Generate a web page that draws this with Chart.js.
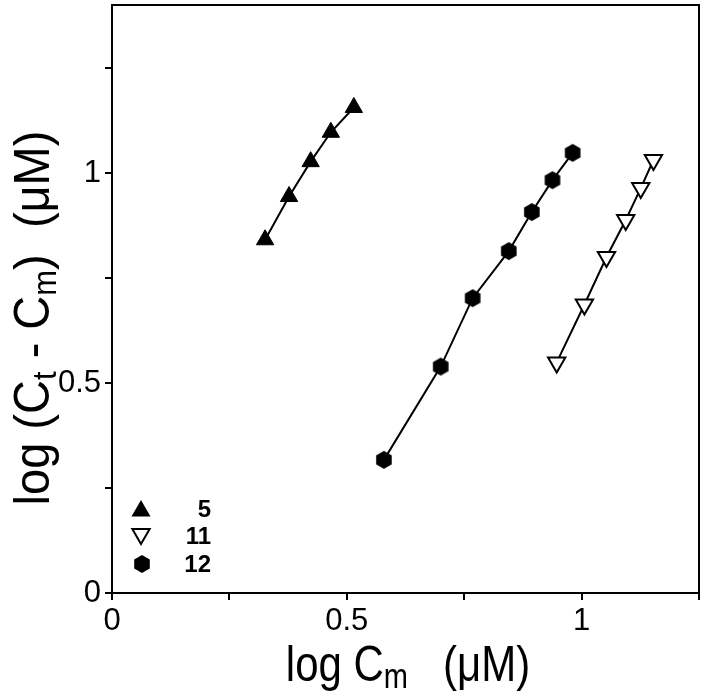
<!DOCTYPE html>
<html><head><meta charset="utf-8">
<script src="https://cdn.jsdelivr.net/npm/chart.js@4.4.1/dist/chart.umd.min.js"></script>
<style>html,body{margin:0;padding:0;background:#fff}#wrap{width:705px;height:694px}</style>
</head><body><div id="wrap"><canvas id="c" width="705" height="694"></canvas></div>
<script>
// ---- data ----
const seriesNames = ['5', '11', '12'];
const s5X  = [0.326, 0.377, 0.423, 0.466, 0.515];
const s5Y  = [0.841, 0.944, 1.027, 1.097, 1.156];
const s11X = [0.947, 1.006, 1.053, 1.094, 1.126, 1.153];
const s11Y = [0.549, 0.687, 0.800, 0.888, 0.964, 1.031];
const s12X = [0.579, 0.700, 0.768, 0.845, 0.894, 0.938, 0.981];
const s12Y = [0.317, 0.539, 0.702, 0.814, 0.907, 0.983, 1.048];
const xTickValues = [0, 0.5, 1];
const xTickLabels = ['0', '0.5', '1'];
const yTickValues = [0, 0.5, 1];
const yTickLabels = ['0', '0.5', '1'];

const FONT = '"Liberation Sans", Arial, Helvetica, sans-serif';
const pts = (xs, ys) => xs.map((x, i) => ({x: x, y: ys[i]}));

function hexagonCanvas(R) {
  const s = Math.ceil(2 * R + 2);
  const c = document.createElement('canvas');
  c.width = s; c.height = s;
  const g = c.getContext('2d');
  g.fillStyle = '#000';
  g.beginPath();
  for (let i = 0; i < 6; i++) {
    const a = (-90 + 60 * i) * Math.PI / 180;
    const px = s / 2 + R * Math.cos(a), py = s / 2 + R * Math.sin(a);
    i ? g.lineTo(px, py) : g.moveTo(px, py);
  }
  g.closePath(); g.fill();
  return c;
}
const hexImg = hexagonCanvas(9);

function tickCb(values, labels) {
  return function (v) {
    for (let i = 0; i < values.length; i++) if (Math.abs(v - values[i]) < 1e-6) return labels[i];
    return '';
  };
}

function drawTri(ctx, x, y, r, down, fill) {
  ctx.beginPath();
  for (let i = 0; i < 3; i++) {
    const a = (down ? Math.PI : 0) + i * 2 * Math.PI / 3;
    const px = x + Math.sin(a) * r, py = y - Math.cos(a) * r;
    i ? ctx.lineTo(px, py) : ctx.moveTo(px, py);
  }
  ctx.closePath();
  if (fill) { ctx.fillStyle = '#000'; ctx.fill(); }
  else { ctx.fillStyle = '#fff'; ctx.fill(); ctx.lineWidth = 2; ctx.strokeStyle = '#000'; ctx.stroke(); }
}

function measureParts(ctx, parts, main, sub) {
  let w = 0;
  parts.forEach(p => { ctx.font = (p[1] ? sub : main) + 'px ' + FONT; w += ctx.measureText(p[0]).width; });
  return w;
}
function drawParts(ctx, parts, x, y, main, sub, subDrop) {
  let cx = x;
  parts.forEach(p => {
    ctx.font = (p[1] ? sub : main) + 'px ' + FONT;
    ctx.fillText(p[0], cx, y + (p[1] ? subDrop : 0));
    cx += ctx.measureText(p[0]).width;
  });
}

const decor = {
  id: 'decor',
  afterDraw(chart) {
    const ctx = chart.ctx, a = chart.chartArea;
    ctx.save();
    ctx.strokeStyle = '#000'; ctx.lineWidth = 2;
    ctx.strokeRect(a.left, a.top, a.right - a.left, a.bottom - a.top);
    ctx.fillStyle = '#000'; ctx.textBaseline = 'alphabetic'; ctx.textAlign = 'left';
    // x title
    const xParts = [['log C', false], ['m', true], ['   (\u03BCM)', false]];
    let w = measureParts(ctx, xParts, 42, 29);
    ctx.save();
    ctx.translate(a.left + 296 - w / 2, 681);
    ctx.scale(1, 1.18);
    drawParts(ctx, xParts, 0, 0, 42, 29, 6);
    ctx.restore();
    // y title
    const yParts = [['log (C', false], ['t', true], [' - C', false], ['m', true], [')  (\u03BCM)', false]];
    w = measureParts(ctx, yParts, 47, 31);
    ctx.save();
    ctx.translate(49, 318 + w / 2);
    ctx.rotate(-Math.PI / 2);
    ctx.scale(1, 1.06);
    drawParts(ctx, yParts, 0, 0, 47, 31, 7);
    ctx.restore();
    // legend
    const lx = a.left + 29, tx = a.left + 99;
    const rows = [a.top + 504, a.top + 531, a.top + 559];
    drawTri(ctx, lx, rows[0] + 2, 11, false, true);
    drawTri(ctx, lx, rows[1] - 2, 10, true, false);
    ctx.drawImage(hexImg, lx + 1 - hexImg.width / 2, rows[2] - hexImg.height / 2);
    ctx.font = 'bold 24px ' + FONT; ctx.textAlign = 'right'; ctx.textBaseline = 'middle'; ctx.fillStyle = '#000';
    seriesNames.forEach((n, i) => ctx.fillText(n, tx, rows[i] + 1));
    ctx.restore();
  }
};

const common = { showLine: true, borderColor: '#000', borderWidth: 2, tension: 0, fill: false };
new Chart(document.getElementById('c'), {
  type: 'scatter',
  data: {
    datasets: [
      Object.assign({ label: seriesNames[0], data: pts(s5X, s5Y), pointStyle: 'triangle', pointRadius: 10,
        pointBackgroundColor: '#000', pointBorderColor: '#000', pointBorderWidth: 1 }, common),
      Object.assign({ label: seriesNames[1], data: pts(s11X, s11Y), pointStyle: 'triangle', pointRotation: 180, pointRadius: 10,
        pointBackgroundColor: '#fff', pointBorderColor: '#000', pointBorderWidth: 2 }, common),
      Object.assign({ label: seriesNames[2], data: pts(s12X, s12Y), pointStyle: hexImg, pointRadius: 9,
        pointBackgroundColor: '#000', pointBorderColor: '#000' }, common)
    ]
  },
  options: {
    responsive: false, animation: false, devicePixelRatio: 1,
    layout: { autoPadding: false, padding: { top: 5, right: 6, left: 0, bottom: 0 } },
    plugins: { legend: { display: false }, tooltip: { enabled: false } },
    scales: {
      x: {
        type: 'linear', min: 0, max: 1.25,
        afterFit(s) { s.height = 101; s.paddingLeft = 0; s.paddingRight = 0; },
        grid: { drawOnChartArea: false, drawTicks: true, tickLength: 7, color: '#000', lineWidth: 2 },
        border: { display: true, color: '#000', width: 2 },
        ticks: { stepSize: 0.25, autoSkip: false, maxRotation: 0, includeBounds: false, padding: 3,
          color: '#000', font: { size: 31, family: FONT }, callback: tickCb(xTickValues, xTickLabels) }
      },
      y: {
        type: 'linear', min: 0, max: 1.4,
        afterFit(s) { s.width = 112; s.paddingTop = 0; s.paddingBottom = 0; },
        grid: { drawOnChartArea: false, drawTicks: true, tickLength: 7, color: '#000', lineWidth: 2 },
        border: { display: true, color: '#000', width: 2 },
        ticks: { stepSize: 0.25, autoSkip: false, includeBounds: false, padding: 4,
          color: '#000', font: { size: 31, family: FONT }, callback: tickCb(yTickValues, yTickLabels) }
      }
    }
  },
  plugins: [decor]
});
</script></body></html>
